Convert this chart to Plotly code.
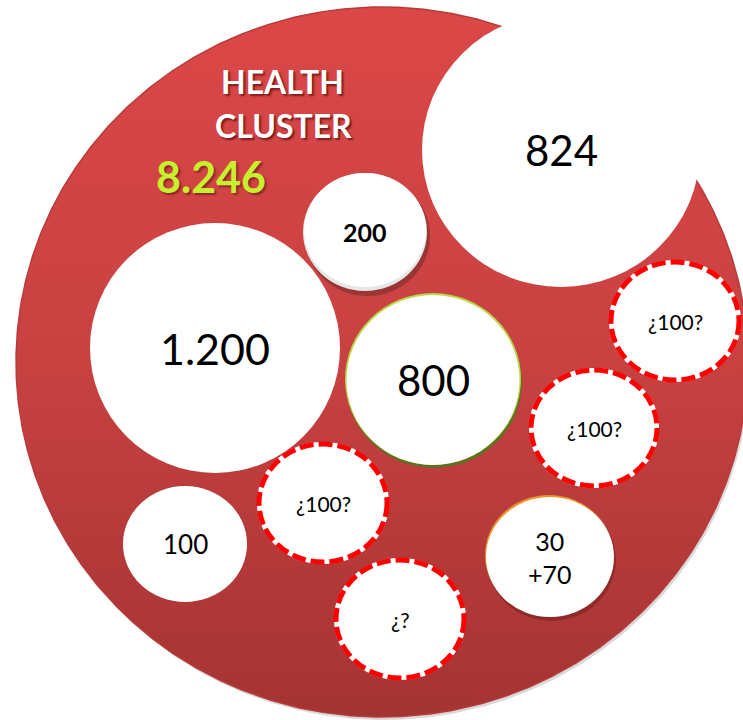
import numpy as np
import plotly.graph_objects as go

# ---------------- data ----------------
cluster_title = ["HEALTH", "CLUSTER"]
cluster_total = "8.246"
bubble_labels = ["824", "200", "1.200", "800", "100", "¿100?", "¿?", "30<br>+70", "¿100?", "¿100?"]
bubble_kind = ["plain", "raised", "plain", "green", "plain", "estimate", "estimate", "orange", "estimate", "estimate"]

# ---------------- layout geometry (pixel space) ----------------
W, H = 743, 720
big = dict(cx=382, cy=362, rx=366, ry=355)
# centre x, centre y, radius x, radius y, font size
bubble_geom = [
    (561, 150, 139, 137, 42),
    (365, 232, 62, 59, 25),
    (215, 348, 125, 125, 43),
    (433, 380, 88, 86, 42),
    (185, 544, 62, 58, 26),
    (323, 503, 64, 59, 21),
    (400, 619, 64, 59, 21),
    (550, 557, 64, 60, 25),
    (594, 428, 63, 58, 21),
    (675, 321, 64, 59, 21),
]

fig = go.Figure()

# soft shadow of the big disc
t = np.linspace(0, 2 * np.pi, 721)
fig.add_trace(go.Scatter(
    x=big["cx"] + 2 + big["rx"] * np.cos(t), y=big["cy"] + 3 + big["ry"] * np.sin(t),
    mode="lines", line=dict(width=0), fill="toself", fillcolor="rgba(0,0,0,0.15)",
    hoverinfo="skip"))
# big red disc with vertical gradient
fig.add_trace(go.Scatter(
    x=big["cx"] + big["rx"] * np.cos(t), y=big["cy"] + big["ry"] * np.sin(t),
    mode="lines", line=dict(width=1.5, color="#b83a3a"), fill="toself",
    fillgradient=dict(type="vertical", start=big["cy"] - big["ry"], stop=big["cy"] + big["ry"],
                      colorscale=[[0, "#dc4747"], [0.5, "#c84141"], [1, "#a43333"]]),
    hoverinfo="skip"))

shapes = []
annotations = []
for lab, kind, (cx, cy, rx, ry, fs) in zip(bubble_labels, bubble_kind, bubble_geom):
    box = dict(type="circle", xref="x", yref="y", x0=cx - rx, x1=cx + rx, y0=cy - ry, y1=cy + ry)
    if kind == "raised":
        shapes.append(dict(box, x0=cx - rx + 2, x1=cx + rx + 3, y0=cy - ry + 3, y1=cy + ry + 5,
                           fillcolor="rgba(60,30,30,0.35)", line=dict(width=0)))
        shapes.append(dict(box, fillcolor="#e6e6e6", line=dict(width=0)))
        shapes.append(dict(box, x0=cx - rx + 1, x1=cx + rx - 1, y0=cy - ry, y1=cy + ry - 4,
                           fillcolor="white", line=dict(width=0)))
    elif kind == "green":
        shapes.append(dict(box, x0=cx - rx + 1, x1=cx + rx + 1, y0=cy - ry + 2, y1=cy + ry + 2,
                           fillcolor="#5f6f25", line=dict(width=0)))
        shapes.append(dict(box, x0=cx - rx, x1=cx + rx, y0=cy - ry - 1, y1=cy + ry - 1,
                           fillcolor="#b9d84a", line=dict(width=0)))
        shapes.append(dict(box, x0=cx - rx + 1.5, x1=cx + rx - 1.5, y0=cy - ry + 1, y1=cy + ry - 1,
                           fillcolor="white", line=dict(width=0)))
    elif kind == "orange":
        shapes.append(dict(box, x0=cx - rx - 1, x1=cx + rx - 1, y0=cy - ry - 2, y1=cy + ry - 2,
                           fillcolor="#e8962e", line=dict(width=0)))
        shapes.append(dict(box, x0=cx - rx + 1, x1=cx + rx + 2, y0=cy - ry + 2, y1=cy + ry + 4,
                           fillcolor="rgba(80,20,20,0.35)", line=dict(width=0)))
        shapes.append(dict(box, fillcolor="white", line=dict(width=0)))
    elif kind == "estimate":
        shapes.append(dict(box, fillcolor="white", line=dict(width=4, color="white")))
        shapes.append(dict(box, fillcolor="rgba(0,0,0,0)", line=dict(width=5, color="#ff0000", dash="14px,5px")))
    else:
        shapes.append(dict(box, fillcolor="white", line=dict(width=0)))
    bold = kind == "raised"
    annotations.append(dict(
        x=cx, y=cy, xref="x", yref="y", text=lab, showarrow=False,
        font=dict(family="Lato", size=fs, color="black", weight=700 if bold else 400),
        xanchor="center", yanchor="middle"))

# titles
annotations.append(dict(x=282, y=81, xref="x", yref="y", text=cluster_title[0], showarrow=False,
                        font=dict(family="Lato", size=32, color="white", weight=700,
                                  shadow="2px 2px 2px rgba(60,0,0,0.6)")))
annotations.append(dict(x=283, y=125, xref="x", yref="y", text=cluster_title[1], showarrow=False,
                        font=dict(family="Lato", size=32, color="white", weight=700,
                                  shadow="2px 2px 2px rgba(60,0,0,0.6)")))
annotations.append(dict(x=211, y=176, xref="x", yref="y", text=cluster_total, showarrow=False,
                        font=dict(family="Lato", size=43, color="#c6ef2f", weight=700,
                                  shadow="2px 2px 2px rgba(60,0,0,0.45)")))

fig.update_layout(
    width=W, height=H, margin=dict(l=0, r=0, t=0, b=0),
    paper_bgcolor="white", plot_bgcolor="white", showlegend=False,
    xaxis=dict(range=[0, W], visible=False, fixedrange=True),
    yaxis=dict(range=[H, 0], visible=False, fixedrange=True),
    shapes=shapes, annotations=annotations,
)

fig.write_html("out.html", config=dict(displayModeBar=False),
               post_script="document.body.style.margin='0';document.body.style.overflow='hidden';")
